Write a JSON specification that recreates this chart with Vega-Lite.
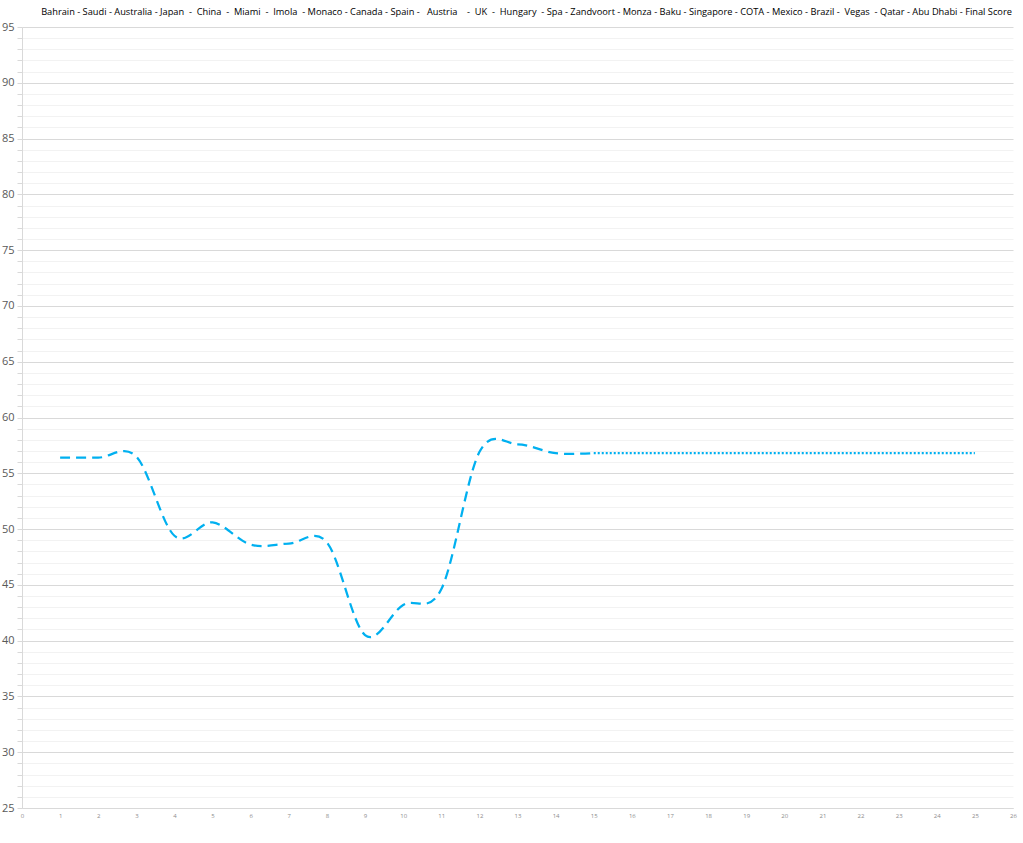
{
  "$schema": "https://vega.github.io/schema/vega-lite/v6.json",
  "autosize": {"type": "none"},
  "width": 991,
  "height": 781,
  "padding": {"left": 22, "top": 27, "right": 10, "bottom": 35},
  "background": "white",
  "config": {"view": {"stroke": null}, "font": "Open Sans"},
  "title": {
    "text": "Bahrain - Saudi - Australia -  Japan\u00a0 -\u00a0 China\u00a0 -\u00a0 Miami\u00a0 -\u00a0 Imola\u00a0 - Monaco - Canada - Spain -\u00a0\u00a0 Austria\u00a0\u00a0\u00a0 -\u00a0 UK\u00a0 -\u00a0 Hungary\u00a0 - Spa - Zandvoort - Monza - Baku - Singapore - COTA - Mexico - Brazil -\u00a0 Vegas\u00a0 - Qatar - Abu Dhabi - Final Score",
    "fontSize": 9.25,
    "fontWeight": "normal",
    "font": "Open Sans",
    "color": "#000000",
    "anchor": "middle",
    "dx": 9,
    "offset": 4
  },
  "datasets": {
    "dashed": [
      {"race": 1, "score": 56.4},
      {"race": 2, "score": 56.4},
      {"race": 3, "score": 56.5},
      {"race": 4, "score": 49.4},
      {"race": 5, "score": 50.6},
      {"race": 6, "score": 48.6},
      {"race": 7, "score": 48.7},
      {"race": 8, "score": 48.8},
      {"race": 9, "score": 40.5},
      {"race": 10, "score": 43.2},
      {"race": 11, "score": 44.6},
      {"race": 12, "score": 56.9},
      {"race": 13, "score": 57.6},
      {"race": 14, "score": 56.8},
      {"race": 15, "score": 56.8}
    ],
    "dotted": [
      {"race": 15, "score": 56.8},
      {"race": 16, "score": 56.8},
      {"race": 17, "score": 56.8},
      {"race": 18, "score": 56.8},
      {"race": 19, "score": 56.8},
      {"race": 20, "score": 56.8},
      {"race": 21, "score": 56.8},
      {"race": 22, "score": 56.8},
      {"race": 23, "score": 56.8},
      {"race": 24, "score": 56.8},
      {"race": 25, "score": 56.8}
    ]
  },
  "encoding": {
    "x": {
      "field": "race",
      "type": "quantitative",
      "scale": {"domain": [0, 26], "nice": false, "zero": false},
      "axis": {
        "title": null,
        "values": [0,1,2,3,4,5,6,7,8,9,10,11,12,13,14,15,16,17,18,19,20,21,22,23,24,25,26],
        "labelFontSize": 6,
        "labelColor": "#8c8c8c",
        "labelPadding": 4,
        "ticks": false,
        "grid": false,
        "domainColor": "#d9d9d9",
        "labelFlush": false
      }
    },
    "y": {
      "field": "score",
      "type": "quantitative",
      "scale": {"domain": [25, 95], "nice": false, "zero": false},
      "axis": {
        "title": null,
        "values": [25,26,27,28,29,30,31,32,33,34,35,36,37,38,39,40,41,42,43,44,45,46,47,48,49,50,51,52,53,54,55,56,57,58,59,60,61,62,63,64,65,66,67,68,69,70,71,72,73,74,75,76,77,78,79,80,81,82,83,84,85,86,87,88,89,90,91,92,93,94,95],
        "labelExpr": "datum.value % 5 === 0 ? datum.label : ''",
        "labelFontSize": 11,
        "labelColor": "#595959",
        "labelPadding": 3,
        "labelFlush": false,
        "tickSize": 5,
        "tickColor": "#d9d9d9",
        "domainColor": "#d9d9d9",
        "grid": true,
        "gridColor": {"condition": {"test": "datum.value % 5 === 0", "value": "#d9d9d9"}, "value": "#f2f2f2"},
        "gridWidth": 1
      }
    }
  },
  "layer": [
    {
      "data": {"name": "dashed"},
      "mark": {"type": "line", "interpolate": "cardinal", "tension": 0, "color": "#00B0F0", "strokeWidth": 2.25, "strokeDash": [10, 6]}
    },
    {
      "data": {"name": "dotted"},
      "mark": {"type": "line", "color": "#00B0F0", "strokeWidth": 2.25, "strokeDash": [2, 2]}
    }
  ]
}
